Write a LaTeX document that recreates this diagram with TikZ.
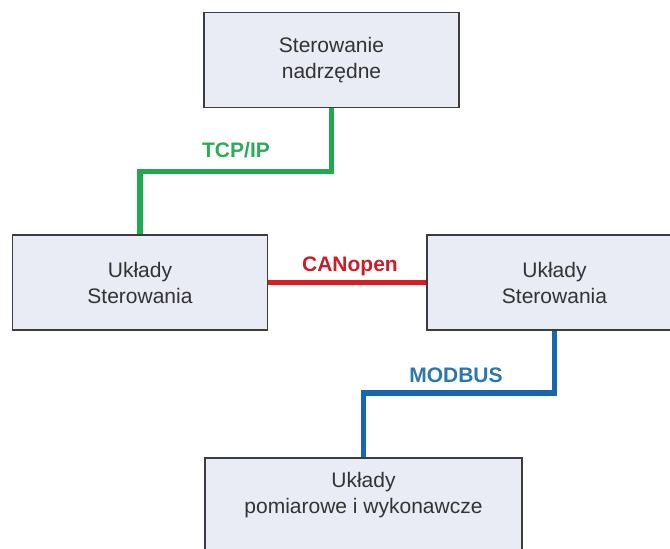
\documentclass[tikz,border=0pt]{standalone}
\usepackage{fontspec}
\setmainfont{Liberation Sans}
\definecolor{boxfill}{HTML}{E9ECF5}
\definecolor{boxdraw}{HTML}{3C3C3C}
\definecolor{txt}{HTML}{333333}
\definecolor{cgreen}{HTML}{1FAA50}
\definecolor{cgreenl}{HTML}{2EAA5C}
\definecolor{cred}{HTML}{D81E22}
\definecolor{credl}{HTML}{C8202A}
\definecolor{cblue}{HTML}{1766B0}
\definecolor{cbluel}{HTML}{2B78B0}
\begin{document}
\begin{tikzpicture}[x=1pt,y=-1pt,
  box/.style={draw=boxdraw,line width=1.5pt,fill=boxfill,rectangle,
    minimum width=255pt,minimum height=95pt,inner sep=0pt,
    text=txt,align=center,font=\fontsize{21}{26}\selectfont},
  boxtext/.style={text=txt,align=center,inner sep=0pt,font=\fontsize{21}{26}\selectfont},
  lbl/.style={inner sep=0pt,font=\bfseries\fontsize{21}{25}\selectfont},
  link/.style={line width=5.5pt}]
\useasboundingbox (0,0) rectangle (670,549);
\fill[white] (0,0) rectangle (670,549);
\node[box] (top) at (331.5,60) {Sterowanie\\nadrzędne};
\node[box] (left) at (140,282.5) {Układy\\Sterowania};
\node[box] (right) at (554.5,282.5) {Układy\\Sterowania};
\node[box,minimum width=317pt] (bottom) at (363.5,505.5) {};
\node[boxtext] (bottomtext) at (363.5,495) {Układy\\pomiarowe i wykonawcze};
\draw[link,cgreen] (top.south) -- ++(0,63) -| (left.north);
\draw[link,cred] (left.east) -- (right.west);
\draw[link,cblue] (right.south) -- ++(0,62) -| (bottom.north);
\node[lbl,text=cgreenl] (tcp) at (236,150) {TCP/IP};
\node[lbl,text=credl] (can) at (350,266) {CANopen};
\node[lbl,text=cbluel] (mod) at (456,375) {MODBUS};
\end{tikzpicture}
\end{document}
